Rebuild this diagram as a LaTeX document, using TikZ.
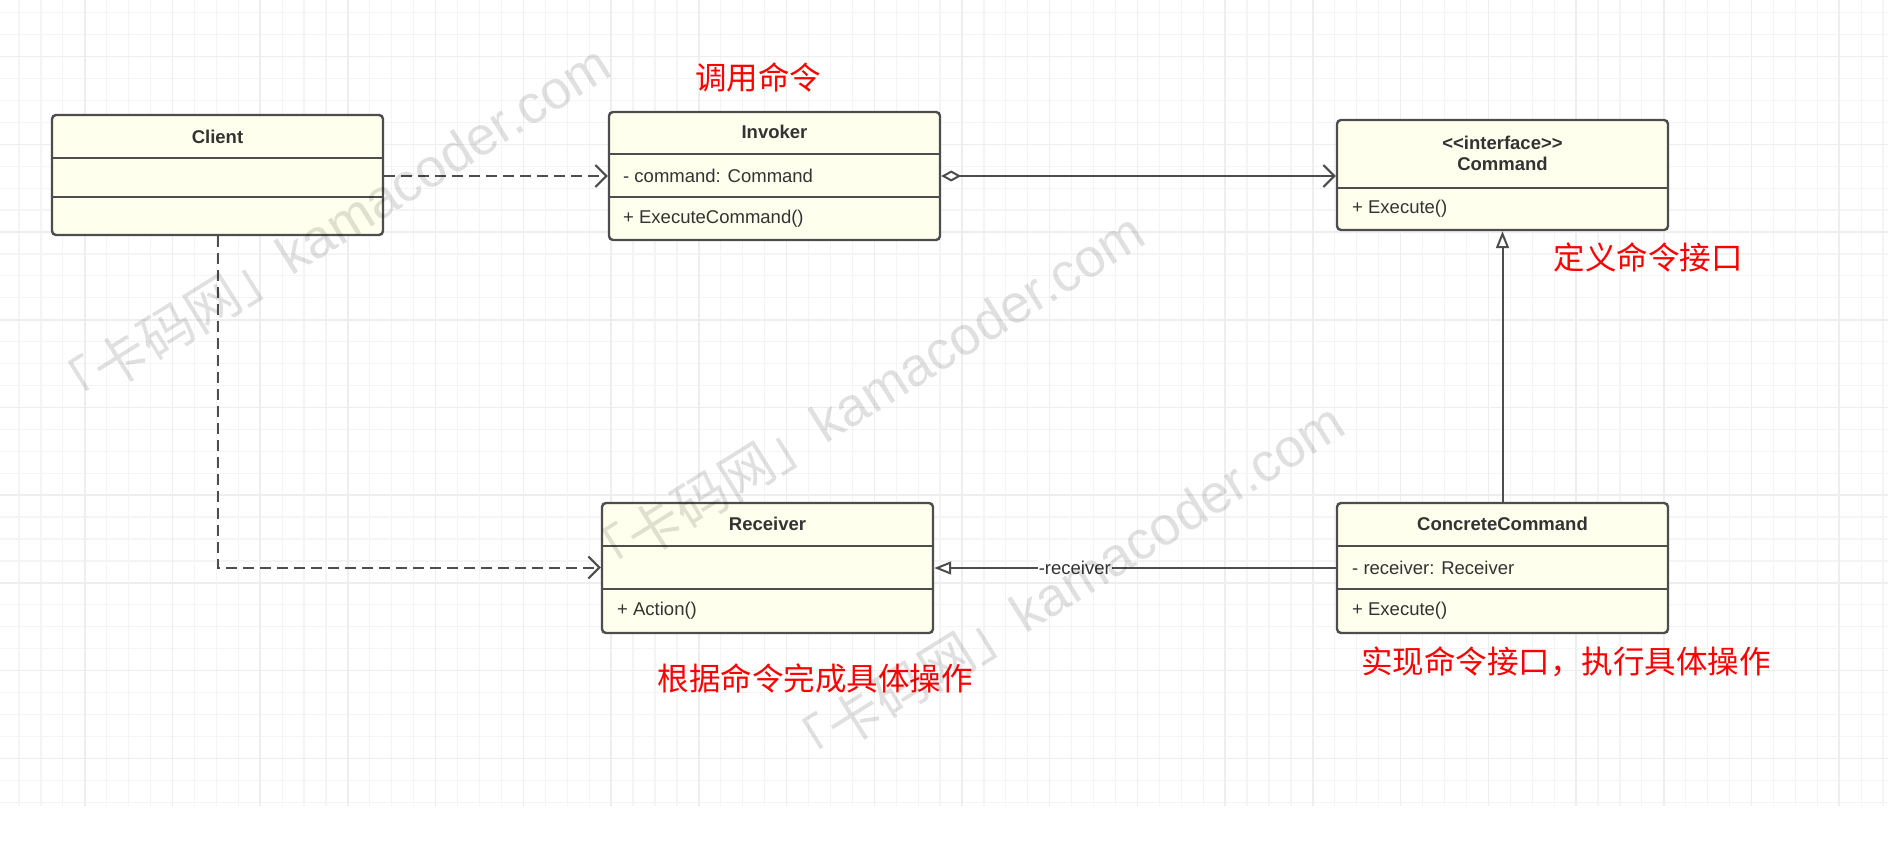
\documentclass[tikz,border=0pt]{standalone}
\usepackage{fontspec}
\setmainfont{Liberation Sans}
\newfontfamily\cjk{Noto Sans CJK SC}
\usetikzlibrary{arrows.meta}
\definecolor{boxfill}{RGB}{255,255,238}
\definecolor{boxline}{RGB}{77,77,77}
\definecolor{txt}{RGB}{51,51,51}
\definecolor{note}{RGB}{255,0,0}
\begin{document}
\begin{tikzpicture}[x=1pt,y=-1pt,
  gridminor/.style={draw=gray!9,line width=1.2pt},
  gridmajor/.style={draw=gray!13,line width=1.5pt},
  classbox/.style={draw=boxline,fill=boxfill,line width=2.4pt,rounded corners=4pt,minimum width=331pt,inner sep=0pt},
  classname/.style={font=\fontsize{18.5}{21}\selectfont\bfseries,text=txt,align=center,inner sep=0pt},
  attr/.style={font=\fontsize{18.5}{21}\selectfont,text=txt,anchor=west,inner sep=0pt},
  divider/.style={draw=boxline,line width=1.8pt},
  conn/.style={draw=boxline,line width=2pt},
  dep/.style={conn,dash pattern=on 11pt off 6pt,-{Straight Barb[length=11pt,width=22pt]}},
  agg/.style={conn,{Diamond[open,length=20pt,width=11pt]}-{Straight Barb[length=11pt,width=22pt]}},
  real/.style={conn,-{Triangle[open,length=17pt,width=13pt]}},
  lbl/.style={font=\fontsize{18.5}{21}\selectfont,text=txt,fill=white,inner sep=1pt},
  remark/.style={font=\cjk\fontsize{31.5}{34}\selectfont,text=note},
  wmark/.style={font=\fontsize{54}{58}\selectfont,text=black,text opacity=0.12,rotate=32}]
\useasboundingbox (0,0) rectangle (1888,842);
\fill[white] (0,0) rectangle (1888,842);
% background grid
\foreach \i in {0,...,85} \draw[gridminor] ({19+21.93*\i},0) -- ({19+21.93*\i},806);
\foreach \j in {0,...,36} \draw[gridminor] (0,{12.7+21.93*\j}) -- (1888,{12.7+21.93*\j});
\foreach \i in {0,...,20} \draw[gridmajor] ({84.8+87.72*\i},0) -- ({84.8+87.72*\i},806);
\foreach \j in {0,...,8} \draw[gridmajor] (0,{56.6+87.72*\j}) -- (1888,{56.6+87.72*\j});

% classes
\node[classbox,minimum height=120pt] (client) at (217.5,175) {};
\node[classname] (clientname) at (217.5,136.5) {Client};
\draw[divider] (client.west |- 0,158) -- (client.east |- 0,158);
\draw[divider] (client.west |- 0,197) -- (client.east |- 0,197);

\node[classbox,minimum height=128pt] (invoker) at (774.5,176) {};
\node[classname] (invokername) at (774.5,132) {Invoker};
\draw[divider] (invoker.west |- 0,154) -- (invoker.east |- 0,154);
\draw[divider] (invoker.west |- 0,197) -- (invoker.east |- 0,197);
\node[attr] (invokerattr) at (623,176) {- command: Command};
\node[attr] (invokerop) at (623,219) {+ ExecuteCommand()};

\node[classbox,minimum height=110pt] (command) at (1502.5,175) {};
\node[classname] (commandname) at (1502.5,153) {<\kern0pt<interface>\kern0pt>\\Command};
\draw[divider] (command.west |- 0,188) -- (command.east |- 0,188);
\node[attr] (commandop) at (1352,209) {+ Execute()};

\node[classbox,minimum height=130pt] (receiver) at (767.5,568) {};
\node[classname] (receivername) at (767.5,524) {Receiver};
\draw[divider] (receiver.west |- 0,546) -- (receiver.east |- 0,546);
\draw[divider] (receiver.west |- 0,589) -- (receiver.east |- 0,589);
\coordinate (recvslot) at (767.5,567.5);
\node[attr] (receiverop) at (617,611) {+ Action()};

\node[classbox,minimum height=130pt] (concrete) at (1502.5,568) {};
\node[classname] (concretename) at (1502.5,524) {ConcreteCommand};
\draw[divider] (concrete.west |- 0,546) -- (concrete.east |- 0,546);
\draw[divider] (concrete.west |- 0,589) -- (concrete.east |- 0,589);
\node[attr] (concreteattr) at (1352,568) {- receiver: Receiver};
\node[attr] (concreteop) at (1352,611) {+ Execute()};

% relations
\draw[dep] (client.east |- invokerattr.west) -- (invoker.west |- invokerattr.west);
\draw[dep] (client.south) |- (receiver.west |- recvslot);
\draw[agg] (invoker.east |- invokerattr.west) -- (command.west |- invokerattr.west);
\draw[real] (concrete.north) -- (command.south);
\draw[real] (concrete.west |- concreteattr.west) -- (receiver.east |- concreteattr.west)
  node[lbl,pos=0.65] (recvlabel) {-receiver};

% remarks
\node[remark] (invokernote) at (758,77) {调用命令};
\node[remark] (commandnote) at (1648,257) {定义命令接口};
\node[remark] (receivernote) at (815,678) {根据命令完成具体操作};
\node[remark] (concretenote) at (1566,662) {实现命令接口，执行具体操作};

% watermarks
\node[wmark] (wm1) at (328,230) {{\cjk 「卡码网」}kamacoder.com};
\node[wmark] (wm2) at (862,398) {{\cjk 「卡码网」}kamacoder.com};
\node[wmark] (wm3) at (1062,588) {{\cjk 「卡码网」}kamacoder.com};
\end{tikzpicture}
\end{document}
